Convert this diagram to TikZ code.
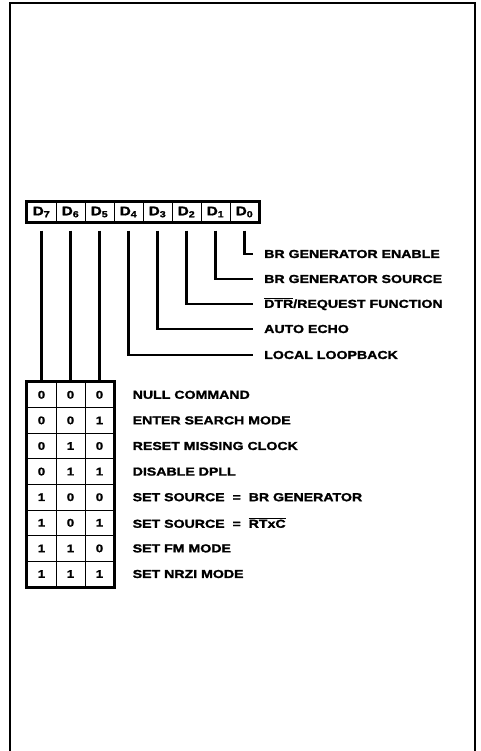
\documentclass[tikz,border=0pt]{standalone}
\usepackage{fontspec}
\newfontfamily\labelfont{Liberation Sans}[FakeStretch=1.22, BoldFeatures={FakeBold=1.6}]
\usetikzlibrary{positioning}
\newcommand{\ovl}[1]{$\overline{\hbox{#1}}$}

\begin{document}
\begin{tikzpicture}[x=1pt, y=-1pt,
    regcell/.style={rectangle, draw=black, line width=1pt,
                minimum width=29pt, minimum height=20pt, inner sep=0pt,
                font=\labelfont\bfseries\fontsize{12.5}{13}\selectfont},
    codecell/.style={rectangle, draw=black, line width=1pt,
                minimum width=29pt, minimum height=25.6pt, inner sep=0pt,
                font=\labelfont\bfseries\fontsize{11}{12}\selectfont},
    fnlabel/.style={anchor=west, inner sep=0pt,
                font=\labelfont\bfseries\fontsize{11.6}{13}\selectfont},
    outline/.style={line width=2.4pt},
    wire/.style={line width=2.2pt},
]
\useasboundingbox (0,0) rectangle (480,751);

% --- page frame (open at the bottom) ---
\draw[line width=1.5pt] (10,751) -- (10,3) -- (475,3) -- (475,751);

% --- register bits ---
\node[regcell] (d7) at (41.5,212) {D\textsubscript{7}};
\node[regcell] (d6) at (70.5,212) {D\textsubscript{6}};
\node[regcell] (d5) at (99.5,212) {D\textsubscript{5}};
\node[regcell] (d4) at (128.5,212) {D\textsubscript{4}};
\node[regcell] (d3) at (157.5,212) {D\textsubscript{3}};
\node[regcell] (d2) at (186.5,212) {D\textsubscript{2}};
\node[regcell] (d1) at (215.5,212) {D\textsubscript{1}};
\node[regcell] (d0) at (244.5,212) {D\textsubscript{0}};
\draw[outline] (d7.north west) rectangle (d0.south east);

% --- single bit functions ---
\coordinate (e0) at (253,254);
\coordinate (e1) at (253,279);
\coordinate (e2) at (253,304);
\coordinate (e3) at (253,329);
\coordinate (e4) at (253,355);

\draw[wire] (d0.south) ++(0,8) |- (e0);
\draw[wire] (d1.south) ++(0,8) |- (e1);
\draw[wire] (d2.south) ++(0,8) |- (e2);
\draw[wire] (d3.south) ++(0,8) |- (e3);
\draw[wire] (d4.south) ++(0,8) |- (e4);

\node[fnlabel, right=11pt of e0] (f0) {BR GENERATOR ENABLE};
\node[fnlabel, right=11pt of e1] (f1) {BR GENERATOR SOURCE};
\node[fnlabel, right=11pt of e2] (f2) {\ovl{DTR}/REQUEST FUNCTION};
\node[fnlabel, right=11pt of e3] (f3) {AUTO ECHO};
\node[fnlabel, right=11pt of e4] (f4) {LOCAL LOOPBACK};

% --- DPLL command table ---
\node[codecell] (t1a) at (41.5,394.8) {0};
\node[codecell] (t1b) at (70.5,394.8) {0};
\node[codecell] (t1c) at (99.5,394.8) {0};
\node[codecell] (t2a) at (41.5,420.4) {0};
\node[codecell] (t2b) at (70.5,420.4) {0};
\node[codecell] (t2c) at (99.5,420.4) {1};
\node[codecell] (t3a) at (41.5,446.0) {0};
\node[codecell] (t3b) at (70.5,446.0) {1};
\node[codecell] (t3c) at (99.5,446.0) {0};
\node[codecell] (t4a) at (41.5,471.6) {0};
\node[codecell] (t4b) at (70.5,471.6) {1};
\node[codecell] (t4c) at (99.5,471.6) {1};
\node[codecell] (t5a) at (41.5,497.2) {1};
\node[codecell] (t5b) at (70.5,497.2) {0};
\node[codecell] (t5c) at (99.5,497.2) {0};
\node[codecell] (t6a) at (41.5,522.8) {1};
\node[codecell] (t6b) at (70.5,522.8) {0};
\node[codecell] (t6c) at (99.5,522.8) {1};
\node[codecell] (t7a) at (41.5,548.4) {1};
\node[codecell] (t7b) at (70.5,548.4) {1};
\node[codecell] (t7c) at (99.5,548.4) {0};
\node[codecell] (t8a) at (41.5,574.0) {1};
\node[codecell] (t8b) at (70.5,574.0) {1};
\node[codecell] (t8c) at (99.5,574.0) {1};
\draw[outline] (t1a.north west) rectangle (t8c.south east);

\draw[wire] (d7.south) ++(0,8) -- (t1a.north);
\draw[wire] (d6.south) ++(0,8) -- (t1b.north);
\draw[wire] (d5.south) ++(0,8) -- (t1c.north);

\node[fnlabel, right=18pt of t1c] (c1) {NULL COMMAND};
\node[fnlabel, right=18pt of t2c] (c2) {ENTER SEARCH MODE};
\node[fnlabel, right=18pt of t3c] (c3) {RESET MISSING CLOCK};
\node[fnlabel, right=18pt of t4c] (c4) {DISABLE DPLL};
\node[fnlabel, right=18pt of t5c] (c5) {SET SOURCE \ = \ BR GENERATOR};
\node[fnlabel, right=18pt of t6c] (c6) {SET SOURCE \ = \ \ovl{RTxC}};
\node[fnlabel, right=18pt of t7c] (c7) {SET FM MODE};
\node[fnlabel, right=18pt of t8c] (c8) {SET NRZI MODE};

\end{tikzpicture}
\end{document}
